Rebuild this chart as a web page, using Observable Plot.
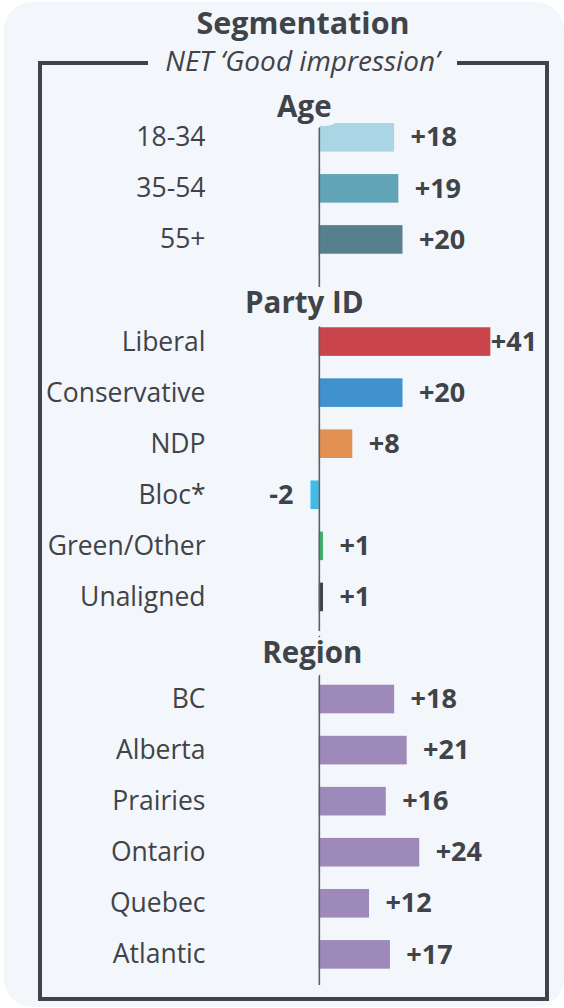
<!DOCTYPE html>
<html>
<head>
<meta charset="utf-8">
<script src="https://cdn.jsdelivr.net/npm/d3@7"></script>
<script src="https://cdn.jsdelivr.net/npm/@observablehq/plot@0.6"></script>
<style>
  html, body { margin: 0; padding: 0; background: #ffffff; }
  body { font-family: "Open Sans", sans-serif; color: #404347; }
  #wrap { position: relative; width: 564px; height: 1008px; overflow: hidden; }
  #card { position: absolute; left: 4px; top: 2px; width: 560px; height: 1005px; background: #f3f6fb; border-radius: 28px; }
  #frame { position: absolute; left: 38px; top: 61px; width: 503px; height: 932px; border: 4px solid #404449; }
  #title { position: absolute; left: 0; top: 0.5px; width: 606px; text-align: center; font-weight: 700; font-size: 30.5px; line-height: 42px; color: #404347; white-space: nowrap; }
  #subtitle { position: absolute; left: 0; top: 41px; width: 605px; text-align: center; line-height: 39px; white-space: nowrap; }
  #subtitle span { background: #f3f6fb; padding: 0 17px; font-style: italic; font-size: 28px; color: #404347; }
  #chart { position: absolute; left: 0; top: 0; }
</style>
</head>
<body>
<div id="wrap">
  <div id="card"></div>
  <div id="frame"></div>
  <div id="title">Segmentation</div>
  <div id="subtitle"><span>NET ‘Good impression’</span></div>
  <div id="chart"></div>
</div>
<script>
// ---- data ----
const ageCats = ["18-34", "35-54", "55+"];
const ageVals = [18, 19, 20];
const partyCats = ["Liberal", "Conservative", "NDP", "Bloc*", "Green/Other", "Unaligned"];
const partyVals = [41, 20, 8, -2, 1, 1];
const regionCats = ["BC", "Alberta", "Prairies", "Ontario", "Quebec", "Atlantic"];
const regionVals = [18, 21, 16, 24, 12, 17];
const headers = ["Age", "Party ID", "Region"];

// ---- colours ----
const ageColors = ["#a9d5e4", "#62a4b7", "#56808c"];
const partyColors = ["#c9444b", "#4092cf", "#e39152", "#3fbdea", "#3bb46b", "#3f4348"];
const regionColor = "#9d8aba";
const ink = "#404347";
const bg = "#f3f6fb";

const rows = [
  ...ageCats.map((c, i) => ({cat: c, value: ageVals[i], color: ageColors[i]})),
  ...partyCats.map((c, i) => ({cat: c, value: partyVals[i], color: partyColors[i]})),
  ...regionCats.map((c, i) => ({cat: c, value: regionVals[i], color: regionColor}))
];
const yDomain = [...ageCats, headers[1], ...partyCats, headers[2], ...regionCats];
const maxV = d3.max(rows, d => d.value);
const gap = 3.8; // label gap in value units
const fmt = d => (d.value > 0 ? "+" : "") + d.value;

const headerStyle = {fontSize: 29.5, fontWeight: "bold", fill: ink, stroke: bg, strokeWidth: 18, strokeLinejoin: "round"};

const chart = Plot.plot({
  width: 564,
  height: 1008,
  marginTop: 123,
  marginBottom: 23,
  marginLeft: 277,
  marginRight: 36,
  style: {background: "transparent", fontFamily: "'Open Sans', sans-serif", color: ink},
  x: {domain: [-10, 50], axis: null},
  y: {type: "band", domain: yDomain, paddingInner: 0.44, paddingOuter: 0.16, align: 0, round: false},
  color: {type: "identity"},
  marks: [
    Plot.barX(rows, {x: "value", y: "cat", fill: "color"}),
    Plot.ruleX([0], {stroke: "#5d6064", strokeWidth: 1.6}),
    Plot.axisY([...ageCats, ...partyCats, ...regionCats], {
      anchor: "left", tickSize: 0, tickPadding: 72, fontSize: 26.5, fill: ink, label: null
    }),
    Plot.text(rows.filter(d => d.value >= 0), {
      x: d => Math.min(d.value + gap, maxV), y: "cat", text: fmt,
      textAnchor: "start", fontSize: 27, fontWeight: "bold", fill: ink
    }),
    Plot.text(rows.filter(d => d.value < 0), {
      x: d => d.value - gap - 0.4, y: "cat", text: fmt,
      textAnchor: "end", fontSize: 27, fontWeight: "bold", fill: ink
    }),
    Plot.text([headers[0]], {x: () => 0, y: () => ageCats[0], text: d => d, dx: -15, dy: -30, ...headerStyle}),
    Plot.text([headers[1]], {x: () => 0, y: d => d, text: d => d, dx: -15, dy: 13, ...headerStyle}),
    Plot.text([headers[2]], {x: () => 0, y: d => d, text: d => d, dx: -7, dy: 5.5, ...headerStyle})
  ]
});
chart.style.background = "transparent";
document.getElementById("chart").appendChild(chart);
</script>
</body>
</html>
